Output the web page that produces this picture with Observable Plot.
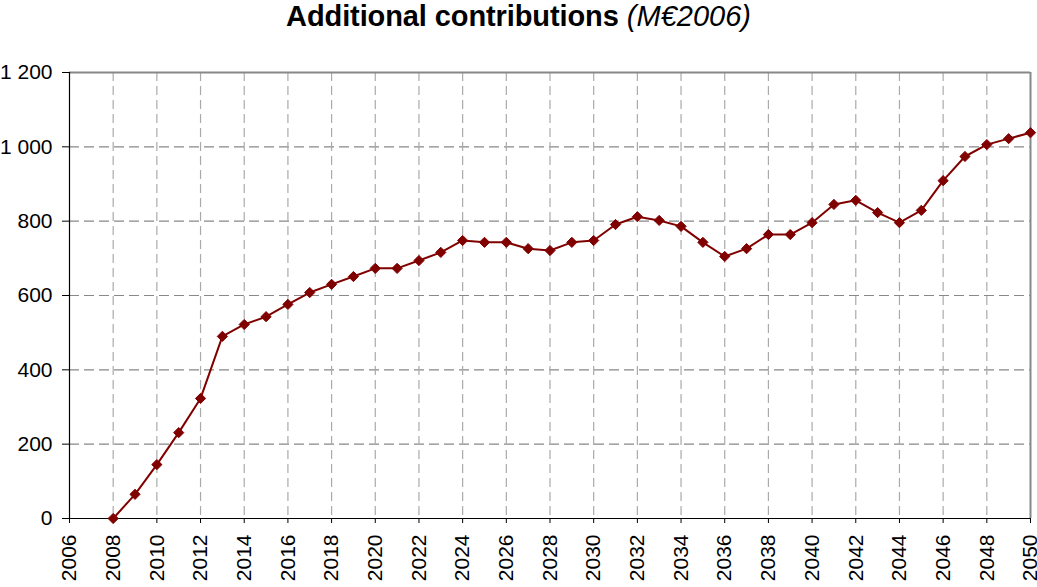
<!DOCTYPE html>
<html>
<head>
<meta charset="utf-8">
<script src="https://cdn.jsdelivr.net/npm/d3@7"></script>
<script src="https://cdn.jsdelivr.net/npm/@observablehq/plot@0.6"></script>
<style>
  html, body { margin: 0; padding: 0; background: #fff; }
  #title { height: 40px; width: 1037px; text-align: center; font-family: "Liberation Sans", Arial, sans-serif; font-size: 29px; line-height: 33px; color: #000; white-space: nowrap; }
  #title b { font-weight: bold; letter-spacing: -0.1px; }
  #title i { font-style: italic; font-weight: normal; }
</style>
</head>
<body>
<div id="title"><b>Additional contributions</b> <i>(M€2006)</i></div>
<div id="chart"></div>
<script>
const years = [2008,2009,2010,2011,2012,2013,2014,2015,2016,2017,2018,2019,2020,2021,2022,2023,2024,2025,2026,2027,2028,2029,2030,2031,2032,2033,2034,2035,2036,2037,2038,2039,2040,2041,2042,2043,2044,2045,2046,2047,2048,2049,2050];
const values = [0,65,145,231,323,490,522,543,576,608,630,651,673,673,694,716,748,743,743,726,721,743,748,791,812,802,786,743,705,726,764,764,796,845,856,823,796,829,909,974,1006,1022,1038];
const xTicks = d3.range(2006, 2051, 2);
const yTicks = [0, 200, 400, 600, 800, 1000, 1200];

const data = years.map((y, i) => ({year: y, value: values[i]}));
const fmt = d => d3.format(",")(d).replace(/,/g, " ");

const chart = Plot.plot({
  width: 1037,
  height: 547,
  marginTop: 32,
  marginBottom: 69,
  marginLeft: 69,
  marginRight: 7,
  style: {fontFamily: "'Liberation Sans', Arial, sans-serif", fontSize: "21px", color: "#000", background: "#fff", overflow: "visible"},
  x: {domain: [2006, 2050]},
  y: {domain: [0, 1200]},
  marks: [
    Plot.ruleY(yTicks.filter(d => d > 0 && d < 1200), {stroke: "#888", strokeWidth: 1.2, strokeDasharray: "10,5"}),
    Plot.ruleX(xTicks.filter(d => d > 2006 && d < 2050), {stroke: "#aaa", strokeWidth: 1.2, strokeDasharray: "9,5"}),
    Plot.ruleY([1200], {stroke: "#888", strokeWidth: 2}),
    Plot.ruleX([2050], {stroke: "#888", strokeWidth: 2}),
    Plot.ruleX([2006], {stroke: "#000", strokeWidth: 1.2}),
    Plot.ruleY([0], {stroke: "#000", strokeWidth: 1.2}),
    Plot.axisY({ticks: yTicks, tickFormat: fmt, tickSize: 7, tickPadding: 10, fontSize: 21, label: null, stroke: "#000"}),
    Plot.axisX({ticks: xTicks, tickFormat: d => String(d), tickSize: 5, tickPadding: 11, tickRotate: -90, fontSize: 21, label: null, stroke: "#000"}),
    Plot.line(data, {x: "year", y: "value", stroke: "#800000", strokeWidth: 2}),
    Plot.dot(data, {x: "year", y: "value", symbol: "diamond2", r: 4.6, fill: "#800000", stroke: "#800000", strokeWidth: 1})
  ]
});
document.getElementById("chart").appendChild(chart);
</script>
</body>
</html>
